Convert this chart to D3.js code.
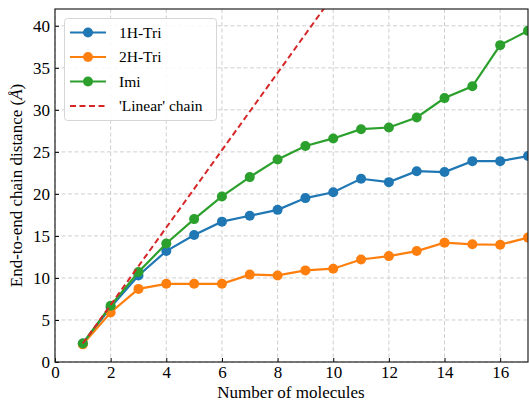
<!DOCTYPE html>
<html><head><meta charset="utf-8">
<script src="https://cdn.jsdelivr.net/npm/d3@7"></script>
<style>body{margin:0;background:#fff}</style>
</head><body><svg id="c" width="529" height="401" font-family="Liberation Serif"></svg>
<script>
const molecules = [1,2,3,4,5,6,7,8,9,10,11,12,13,14,15,16,17];
const tri1H = [2.2,6.5,10.3,13.2,15.1,16.7,17.4,18.1,19.5,20.2,21.8,21.4,22.7,22.6,23.9,23.9,24.5];
const tri2H = [2.1,5.9,8.7,9.3,9.3,9.3,10.4,10.3,10.9,11.1,12.2,12.6,13.2,14.2,14.0,13.95,14.8];
const imi   = [2.2,6.7,10.7,14.1,17.0,19.7,22.0,24.1,25.7,26.6,27.7,27.9,29.1,31.4,32.8,37.7,39.4];
const linearChain = [2.2,6.8,11.4,16.0,20.6,25.2,29.8,34.4,39.0,43.6,48.2,52.8,57.4,62.0,66.6,71.2,75.8];
const xTicks = [0,2,4,6,8,10,12,14,16];
const yTicks = [0,5,10,15,20,25,30,35,40];
const seriesNames = ["1H-Tri","2H-Tri","Imi","'Linear' chain"];
const colors = ["#1f77b4","#ff7f0e","#2ca02c","#d62728"];

const FONT = "Liberation Serif";
const FS = "17px";
const FSL = "15.5px";
const svg = d3.select("#c");
const L=55, R=528, T=9, B=362;
const x = d3.scaleLinear().domain([0,17]).range([L,R]);
const y = d3.scaleLinear().domain([0,42]).range([B,T]);

svg.append("defs").append("clipPath").attr("id","clip").append("rect")
  .attr("x",L).attr("y",T).attr("width",R-L).attr("height",B-T);

// grid
const grid = svg.append("g");
grid.selectAll(".gx").data(xTicks).join("line")
  .attr("x1",d=>x(d)).attr("x2",d=>x(d)).attr("y1",T).attr("y2",B)
  .attr("stroke","#cfcfcf").attr("stroke-width",1).attr("stroke-dasharray","4,2.5");
grid.selectAll(".gy").data(yTicks).join("line")
  .attr("x1",L).attr("x2",R).attr("y1",d=>y(d)).attr("y2",d=>y(d))
  .attr("stroke","#cfcfcf").attr("stroke-width",1).attr("stroke-dasharray","4,2.5");

// axes with inward ticks
const xa = svg.append("g").attr("transform",`translate(0,${B})`)
  .call(d3.axisBottom(x).tickValues(xTicks).tickSizeInner(-4).tickSizeOuter(0).tickPadding(4));
const ya = svg.append("g").attr("transform",`translate(${L},0)`)
  .call(d3.axisLeft(y).tickValues(yTicks).tickSizeInner(-4).tickSizeOuter(0).tickPadding(5));
[xa,ya].forEach(a=>{
  a.attr("font-family",FONT).attr("font-size",FS);
  a.select(".domain").remove();
  a.selectAll("text").attr("font-size",FS).attr("font-family",FONT).attr("fill","#000");
  a.selectAll("line").attr("stroke","#000");
});
xa.selectAll("text").attr("dy","0.71em");

// plot lines
const plot = svg.append("g").attr("clip-path","url(#clip)");
const line = d3.line().x((d,i)=>x(molecules[i])).y(d=>y(d));
const data = [tri1H,tri2H,imi];
data.forEach((s,k)=>{
  plot.append("path").datum(s).attr("d",line).attr("fill","none")
    .attr("stroke",colors[k]).attr("stroke-width",2.2);
  plot.selectAll(".m"+k).data(s).join("circle")
    .attr("cx",(d,i)=>x(molecules[i])).attr("cy",d=>y(d)).attr("r",5).attr("fill",colors[k]);
});
plot.append("path").datum(linearChain).attr("d",line).attr("fill","none")
  .attr("stroke",colors[3]).attr("stroke-width",2).attr("stroke-dasharray","6,3.5");

// spines
svg.append("rect").attr("x",L).attr("y",T).attr("width",R-L).attr("height",B-T)
  .attr("fill","none").attr("stroke","#222").attr("stroke-width",1.2);

// legend
const lg = svg.append("g");
lg.append("rect").attr("x",64.5).attr("y",18.5).attr("width",152).attr("height",102).attr("rx",3)
  .attr("fill","rgba(255,255,255,0.85)").attr("stroke","#d6d6d6");
seriesNames.forEach((n,i)=>{
  const yy = 32.5 + i*24.5;
  const g = lg.append("g");
  g.append("line").attr("x1",70).attr("x2",106).attr("y1",yy).attr("y2",yy)
    .attr("stroke",colors[i]).attr("stroke-width",i===3?2:2.2)
    .attr("stroke-dasharray",i===3?"6,3.5":null);
  if(i<3) g.append("circle").attr("cx",88).attr("cy",yy).attr("r",5).attr("fill",colors[i]);
  g.append("text").attr("x",119).attr("y",yy).attr("dy","0.35em")
    .attr("font-family",FONT).attr("font-size",FSL).text(n);
});

// axis labels
svg.append("text").attr("x",291).attr("y",397.5).attr("text-anchor","middle")
  .attr("font-family",FONT).attr("font-size",FS).text("Number of molecules");
const yl = svg.append("text").attr("transform",`translate(22,${(T+B)/2}) rotate(-90)`)
  .attr("text-anchor","middle").attr("font-family",FONT).attr("font-size",FS);
yl.append("tspan").text("End-to-end chain distance (");
yl.append("tspan").attr("font-style","italic").text("Å");
yl.append("tspan").text(")");
</script></body></html>
